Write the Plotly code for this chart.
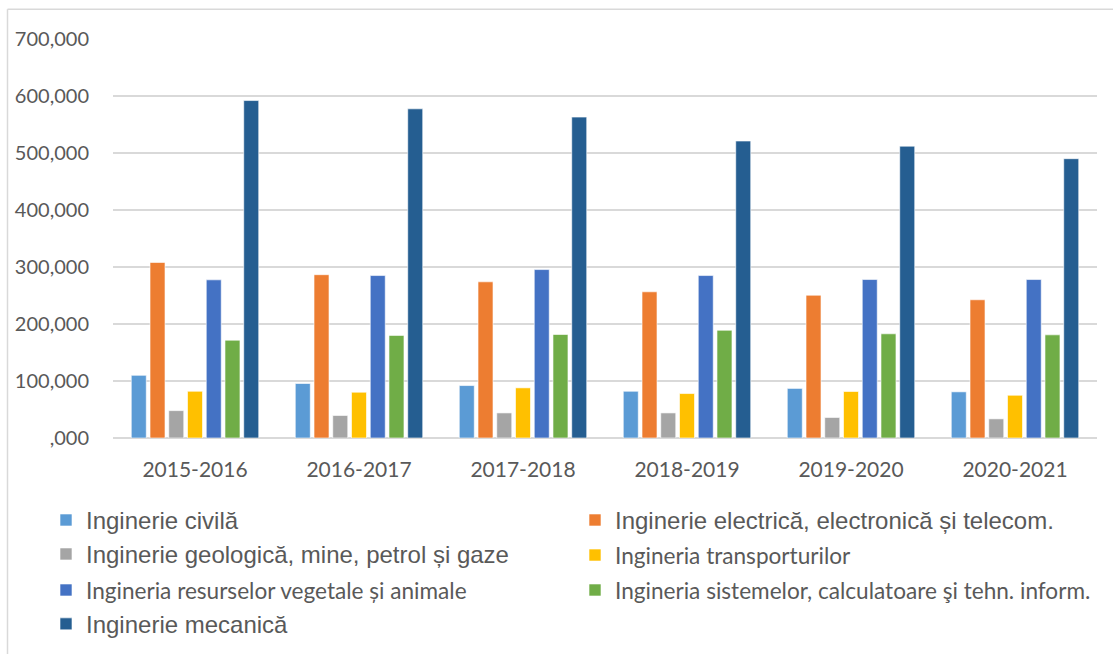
import plotly.graph_objects as go

years = ["2015-2016", "2016-2017", "2017-2018", "2018-2019", "2019-2020", "2020-2021"]

civila = [110000, 95600, 92000, 82000, 87000, 81000]
electrica = [308000, 286500, 274000, 256500, 250500, 242500]
geologica = [48000, 39500, 44000, 44000, 36000, 33600]
transporturi = [82000, 80300, 88000, 78000, 81600, 75000]
resurse = [277500, 285000, 295500, 285000, 278000, 278000]
sisteme = [171600, 180000, 181600, 189000, 182800, 181000]
mecanica = [592000, 577500, 563000, 521000, 512000, 490000]

tick_vals = [0, 100000, 200000, 300000, 400000, 500000, 600000, 700000]
tick_text = [",000", "100,000", "200,000", "300,000", "400,000", "500,000", "600,000", "700,000"]

ARIAL = "Liberation Sans, Arial, sans-serif"
CALIBRI = "Lato, Carlito, sans-serif"
TXT = "#595959"

# name, values, colour, legend id, font family
series = [
    ("Inginerie civilă", civila, "#5B9BD5", "legend", ARIAL),
    ("Inginerie electrică, electronică și telecom.", electrica, "#ED7D31", "legend2", ARIAL),
    ("Inginerie geologică, mine, petrol și gaze", geologica, "#A5A5A5", "legend3", ARIAL),
    ("Ingineria transporturilor", transporturi, "#FFC000", "legend4", CALIBRI),
    ("Ingineria resurselor vegetale și animale", resurse, "#4472C4", "legend5", CALIBRI),
    ("Ingineria sistemelor, calculatoare şi tehn. inform.", sisteme, "#70AD47", "legend6", CALIBRI),
    ("Inginerie mecanică", mecanica, "#255E91", "legend7", ARIAL),
]

# pixel -> paper coords (plot area: x 113..1097, y 39..438.5)
PL, PW, PB, PH = 113, 984, 438.5, 399.5
def px_x(p):
    return (p - PL) / PW
def px_y(p):
    return (PB - p) / PH

legend_pos = {
    "legend": (46, 521), "legend2": (575, 521),
    "legend3": (46, 555), "legend4": (575, 556),
    "legend5": (46, 591), "legend6": (575, 591),
    "legend7": (46, 625),
}

fig = go.Figure()
for name, vals, color, leg, fam in series:
    fig.add_trace(go.Bar(
        x=years, y=vals, name=name, legend=leg,
        marker=dict(color=color, line=dict(color="rgba(255,255,255,0.6)", width=1)),
    ))

legends = {}
for name, vals, color, leg, fam in series:
    lx, ly = legend_pos[leg]
    legends[leg] = dict(
        x=px_x(lx), y=px_y(ly), xanchor="left", yanchor="middle",
        bgcolor="rgba(0,0,0,0)", borderwidth=0,
        font=dict(family=fam, size=24 if fam == ARIAL else 22.6, color=TXT),
    )

fig.update_layout(
    width=1113, height=654,
    margin=dict(l=113, r=16, t=39, b=215.5, autoexpand=False),
    plot_bgcolor="white", paper_bgcolor="white",
    barmode="group", bargap=0.2, bargroupgap=0.2,
    showlegend=True,
    **legends,
)
fig.update_yaxes(
    range=[0, 700000], tickvals=tick_vals, ticktext=tick_text,
    showgrid=True, gridcolor="#D9D9D9", gridwidth=1.5,
    zeroline=True, zerolinecolor="#D9D9D9", zerolinewidth=1.5,
    showline=False, ticklabelstandoff=23,
    tickfont=dict(family=CALIBRI, size=20, color=TXT),
)
fig.update_xaxes(
    showgrid=False, showline=False, ticklabelstandoff=17,
    tickfont=dict(family=CALIBRI, size=21, color=TXT),
)

# chart frame (only the top and left edges are inside the crop)
fig.add_shape(type="line", xref="paper", yref="paper",
              x0=px_x(7.5), x1=px_x(1120), y0=px_y(9.3), y1=px_y(9.3),
              line=dict(color="#D9D9D9", width=1.5))
fig.add_shape(type="line", xref="paper", yref="paper",
              x0=px_x(7.5), x1=px_x(7.5), y0=px_y(9.3), y1=px_y(660),
              line=dict(color="#D9D9D9", width=1.5))

# drop the browser's default 8px body margin so the figure sits at (0, 0)
fig.write_html("out.html", config={"displayModeBar": False},
               post_script="document.body.style.margin='0px';")
